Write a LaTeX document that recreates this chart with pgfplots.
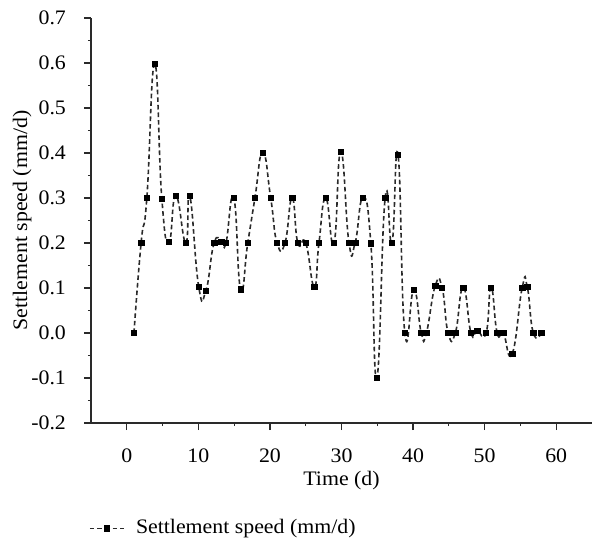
\documentclass[border=0pt]{standalone}
\usepackage{pgfplots}
\pgfplotsset{compat=1.18}
\usepackage{fontspec}
\setmainfont[FakeStretch=1.06]{Liberation Serif}

% daily settlement speed readings (day, mm/d)
\pgfplotstableread{
day   speed
1.0   0.000
2.0   0.200
2.8   0.300
3.9   0.598
4.9   0.298
5.9   0.203
6.85  0.305
8.25  0.200
8.8   0.305
10.05 0.103
11.05 0.094
12.2  0.200
13.2  0.203
13.85 0.200
14.95 0.300
15.9  0.097
16.9  0.200
17.9  0.300
19.0  0.401
20.1  0.301
21.0  0.200
22.1  0.200
23.1  0.300
23.9  0.200
25.0  0.200
26.2  0.103
26.85 0.200
27.8  0.300
28.95 0.200
29.9  0.403
31.05 0.200
31.9  0.200
33.0  0.301
34.1  0.199
34.95 -0.099
36.1  0.300
37.05 0.200
37.9  0.396
38.85 0.000
40.1  0.096
41.15 0.000
41.85 0.000
43.1  0.105
44.05 0.101
44.9  0.000
45.9  0.000
47.0  0.101
48.1  0.000
48.95 0.005
50.2  0.000
50.9  0.101
51.75 0.000
52.6  0.000
53.85 -0.046
55.25 0.101
55.95 0.103
56.8  0.000
57.9  0.000
}\speedtable

\definecolor{axisgray}{HTML}{2A2A2A}
\definecolor{linegray}{HTML}{2A2A2A}

\begin{document}
\fontsize{10.3}{12}\selectfont
\begin{tikzpicture}
\useasboundingbox (0,0) rectangle (296pt,270.5pt);
\begin{axis}[
  at={(45.5pt,59pt)}, anchor=south west,
  scale only axis, width=250.5pt, height=202.5pt,
  xmin=-5, xmax=65, ymin=-0.2, ymax=0.7,
  axis x line*=bottom, axis y line*=left,
  axis line style={line width=0.6pt, color=axisgray},
  xtick={0,10,20,30,40,50,60},
  minor xtick={5,15,25,35,45,55},
  ytick={-0.2,-0.1,0,0.1,0.2,0.3,0.4,0.5,0.6,0.7},
  minor ytick={-0.15,-0.05,0.05,0.15,0.25,0.35,0.45,0.55,0.65},
  tick align=outside,
  major tick length=3.5pt, minor tick length=1.6pt,
  every tick/.style={line width=0.6pt, color=axisgray},
  /pgf/number format/assume math mode=true,
  xticklabel style={anchor=base, inner sep=0pt, yshift=-16pt},
  yticklabel style={anchor=east, inner sep=0pt, xshift=-8.85pt,
    /pgf/number format/.cd, fixed, fixed zerofill, precision=1},
  xlabel={Time (d)},
  ylabel={Settlement speed (mm/d)},
  x label style={at={(axis description cs:0.5,0)}, anchor=base, yshift=-31pt},
  % the label is turned by 90 degrees, so its own y direction points left
  y label style={at={(axis description cs:0,0.5)}, anchor=base, yshift=32pt},
  legend style={draw=none, fill=none, at={(axis description cs:0,0)},
    anchor=west, xshift=-1.2pt, yshift=-52.65pt, inner sep=0pt,
    nodes={inner sep=0pt}, column sep=5.5pt},
  legend cell align=left,
  legend image code/.code={
    \draw[mark repeat=2, mark phase=2, #1]
      plot coordinates {(0pt,0pt) (8.6pt,0pt) (17.2pt,0pt)};},
]
\addplot[
  smooth, tension=0.9, color=linegray, line width=0.8pt,
  dash pattern=on 2.3pt off 1.5pt,
  mark=square*, mark size=1.35pt,
  mark options={solid, fill=black, draw=black, line width=0.3pt},
] table[x=day, y=speed] {\speedtable};
\addlegendentry{Settlement speed (mm/d)}
\end{axis}
\end{tikzpicture}
\end{document}
